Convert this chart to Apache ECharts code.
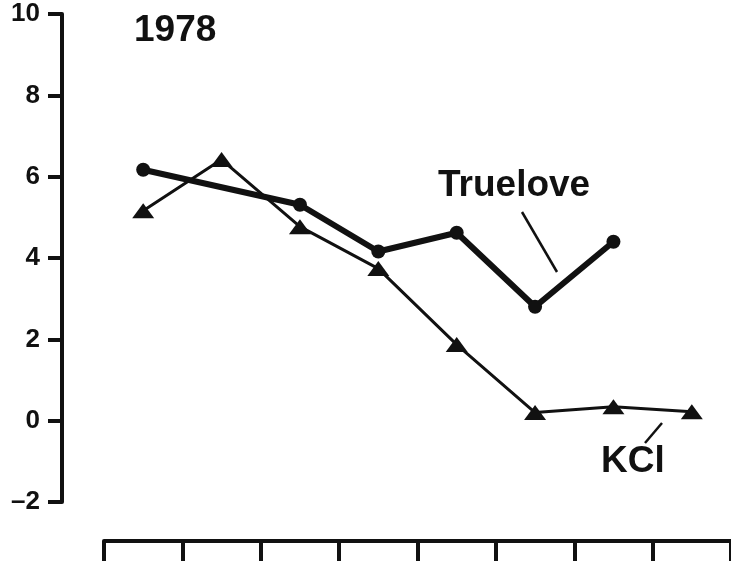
<!DOCTYPE html>
<html>
<head>
<meta charset="utf-8">
<script src="https://cdn.jsdelivr.net/npm/echarts@6/dist/echarts.min.js"></script>
<style>
  html, body { margin: 0; padding: 0; background: #fff; }
  #main { width: 731px; height: 567px; }
</style>
</head>
<body>
<div id="main"></div>
<script>
// categories (no tick labels on x in the original)
var categories = ['1', '2', '3', '4', '5', '6', '7', '8'];
// Truelove series (circles), missing points left as null
var trueloveValues = [6.17, null, 5.31, 4.16, 4.62, 2.80, 4.40, null];
// KCl series (triangles)
var kclValues = [5.16, 6.42, 4.77, 3.74, 1.87, 0.20, 0.34, 0.22];
var yTicks = { min: -2, max: 10, step: 2 };

var FONT = '"Liberation Sans", Arial, sans-serif';

var chart = echarts.init(document.getElementById('main'), null, { renderer: 'canvas' });

var option = {
  backgroundColor: '#fff',
  animation: false,
  title: {
    text: '1978',
    left: 134,
    top: 12,
    padding: 0,
    textStyle: { fontFamily: FONT, fontSize: 37, fontWeight: 'bold', color: '#111' }
  },
  grid: { left: 104, right: -3, top: 14, bottom: 65, containLabel: false },
  xAxis: {
    type: 'category',
    data: categories,
    boundaryGap: true,
    offset: 39,
    axisLine: { onZero: false, lineStyle: { color: '#111', width: 4 } },
    axisTick: { show: true, inside: false, length: 20, lineStyle: { color: '#111', width: 4 } },
    axisLabel: { show: false },
    splitLine: { show: false }
  },
  yAxis: {
    type: 'value',
    min: yTicks.min,
    max: yTicks.max,
    interval: yTicks.step,
    offset: 42,
    axisLine: { show: true, onZero: false, lineStyle: { color: '#111', width: 4 } },
    axisTick: { show: true, length: 14, lineStyle: { color: '#111', width: 4 } },
    axisLabel: {
      margin: 22, fontFamily: FONT, fontSize: 26, fontWeight: 'bold', color: '#111',
      formatter: function (v) { return v < 0 ? '\u2013' + Math.abs(v) : String(v); }
    },
    splitLine: { show: false }
  },
  series: [
    {
      name: 'Truelove',
      type: 'line',
      data: trueloveValues,
      connectNulls: true,
      symbol: 'circle',
      symbolSize: 14,
      itemStyle: { color: '#111' },
      lineStyle: { color: '#111', width: 6 },
      z: 3
    },
    {
      name: 'KCl',
      type: 'line',
      data: kclValues,
      symbol: 'triangle',
      symbolSize: [22, 15],
      itemStyle: { color: '#111' },
      lineStyle: { color: '#111', width: 3 },
      z: 2
    }
  ],
  graphic: [
    {
      type: 'text', left: 438, top: 167,
      style: { text: 'Truelove', font: 'bold 37px ' + FONT, fill: '#111' }
    },
    {
      type: 'line',
      shape: { x1: 522, y1: 212, x2: 557, y2: 272 },
      style: { stroke: '#111', lineWidth: 2.5 }
    },
    {
      type: 'text', left: 601, top: 443,
      style: { text: 'KCl', font: 'bold 37px ' + FONT, fill: '#111' }
    },
    {
      type: 'line',
      shape: { x1: 662, y1: 423, x2: 645, y2: 443 },
      style: { stroke: '#111', lineWidth: 2.5 }
    }
  ]
};

chart.setOption(option);
</script>
</body>
</html>
